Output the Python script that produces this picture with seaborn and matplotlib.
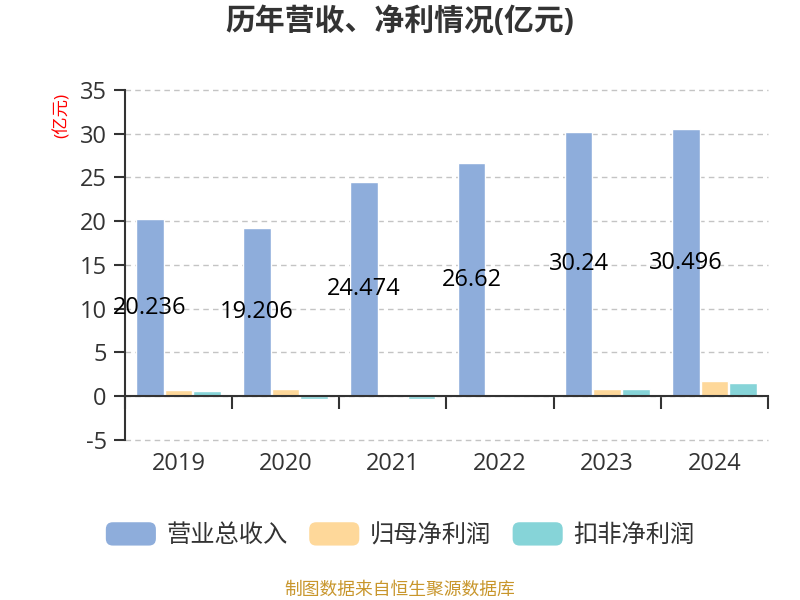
"""Revenue / net profit bar chart (亿元), 2019-2024."""

import matplotlib.pyplot as plt
import pandas as pd
import seaborn as sns
from matplotlib.legend_handler import HandlerPatch
from matplotlib.patches import FancyBboxPatch, Patch

years = ["2019", "2020", "2021", "2022", "2023", "2024"]
revenue = [20.236, 19.206, 24.474, 26.62, 30.24, 30.496]
parent_profit = [0.65, 0.80, 0.12, 0.25, 0.76, 1.72]
deducted_profit = [0.53, -0.30, -0.30, 0.07, 0.80, 1.53]
series_names = ["营业总收入", "归母净利润", "扣非净利润"]
colors = ["#8eaddb", "#fed89a", "#86d4d8"]
y_ticks = [-5, 0, 5, 10, 15, 20, 25, 30, 35]

df = pd.DataFrame({
    "year": years * 3,
    "value": revenue + parent_profit + deducted_profit,
    "series": [s for s in series_names for _ in years],
})

sns.set_theme(style="white")
plt.rcParams["font.family"] = ["Open Sans", "Noto Sans CJK SC", "DejaVu Sans"]
plt.rcParams["axes.unicode_minus"] = False

dark = "#333333"


class RoundedHandler(HandlerPatch):
    def create_artists(self, legend, orig_handle, xdescent, ydescent,
                       width, height, fontsize, trans):
        p = FancyBboxPatch((-xdescent, -ydescent), width, height,
                           boxstyle="round,pad=0,rounding_size=5",
                           facecolor=orig_handle.get_facecolor(),
                           edgecolor="none", transform=trans)
        return [p]


fig = plt.figure(figsize=(8, 6), dpi=100)
ax = fig.add_axes([0.156, 0.267, 0.804, 0.583])

sns.barplot(data=df, x="year", y="value", hue="series", palette=colors,
            width=0.8, gap=0.04, saturation=1, ax=ax, legend=False)

ax.bar_label(ax.containers[0], labels=[f"{v:g}" for v in revenue],
             label_type="center", fontsize=17, color="black")

ax.set_ylim(-5, 35)
ax.set_xlim(-0.5, len(years) - 0.5)
ax.set_yticks(y_ticks)
ax.set_yticklabels([str(t) for t in y_ticks], fontsize=17, color=dark)
ax.yaxis.grid(True, linestyle=(0, (4, 3)), color="#c4c4c4", linewidth=1)
for gl in ax.get_ygridlines():
    gl.set_clip_on(False)
ax.set_axisbelow(True)
ax.tick_params(axis="y", length=8, width=1.5, color=dark, pad=5, left=True)
ax.set_xlabel("")
ax.set_ylabel("")

for side in ["top", "right"]:
    ax.spines[side].set_visible(False)
ax.spines["left"].set_color(dark)
ax.spines["left"].set_linewidth(1.5)
ax.spines["bottom"].set_position(("data", 0))
ax.spines["bottom"].set_color(dark)
ax.spines["bottom"].set_linewidth(1.5)

# boundary ticks on the zero line, category labels below the plot
ax.set_xticks([i - 0.5 for i in range(len(years) + 1)])
ax.set_xticklabels([])
ax.tick_params(axis="x", direction="out", length=9, width=1.5, color=dark, bottom=True)
sec = ax.secondary_xaxis("bottom")
sec.set_xticks(range(len(years)))
sec.set_xticklabels(years, fontsize=17, color=dark)
sec.tick_params(length=0, pad=9)
sec.spines["bottom"].set_visible(False)

fig.text(0.5, 0.963, "历年营收、净利情况(亿元)", ha="center", va="center",
         fontsize=21.5, fontweight="bold", color=dark)
fig.text(0.078, 0.808, "(亿元)", rotation=90, ha="center", va="center",
         fontsize=12.5, color="red")

handles = [Patch(facecolor=c, label=n) for c, n in zip(colors, series_names)]
fig.legend(handles=handles, loc="center", bbox_to_anchor=(0.5, 0.108), ncol=3,
           frameon=False, fontsize=17.5, handlelength=2.06, handleheight=1.1,
           handletextpad=0.42, columnspacing=0.9, labelcolor=dark,
           handler_map={Patch: RoundedHandler()})

fig.text(0.5, 0.017, "制图数据来自恒生聚源数据库", ha="center", va="center",
         fontsize=12.8, color="#c8962c")

fig.savefig("out.png", dpi=100)
